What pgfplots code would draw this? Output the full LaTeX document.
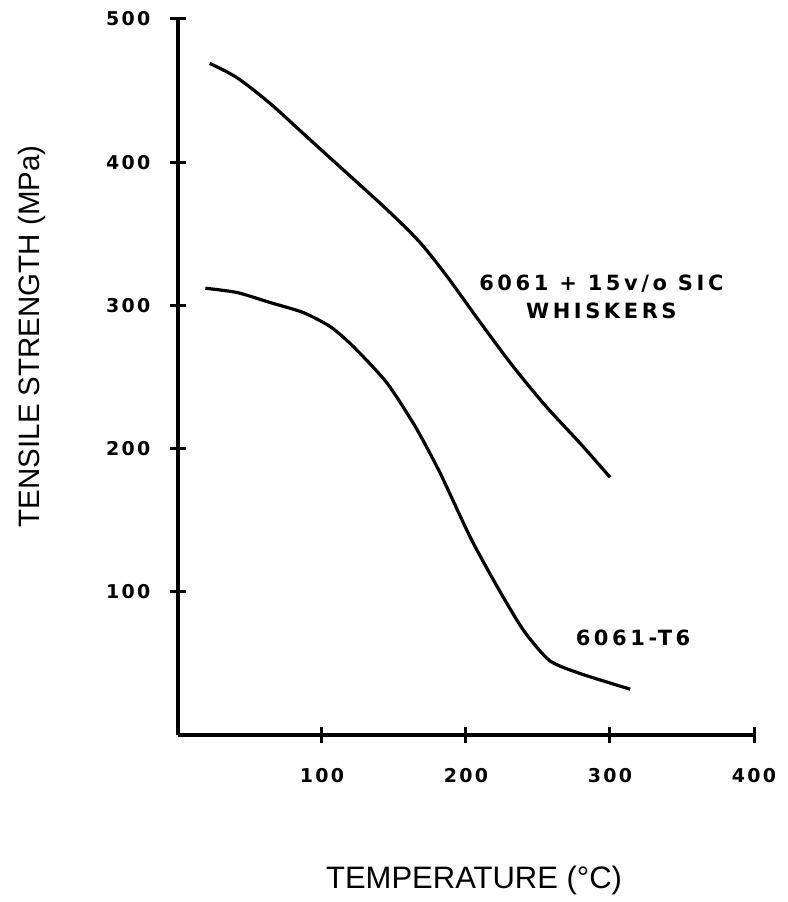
\documentclass[border=0pt]{standalone}
\usepackage{fontspec}
\usepackage{pgfplots}
\pgfplotsset{compat=1.18}
\setmainfont{Liberation Sans}
% lettering used for tick numbers and curve captions
\newfontfamily\lettering[LetterSpace=12]{DejaVu Sans}
\newfontfamily\capletter[LetterSpace=17]{DejaVu Sans}
\newcommand\tickfont{\lettering\bfseries\fontsize{19}{21}\selectfont}
\newcommand\capfont{\capletter\bfseries\fontsize{21}{28}\selectfont}

\begin{document}
\begin{tikzpicture}
\begin{axis}[
  at={(0,0)}, anchor=origin,
  scale only axis,
  width=576pt, height=716pt,
  xmin=0, xmax=400, ymin=0, ymax=500,
  axis lines=left,
  axis line style={-, line width=3.4pt},
  xtick={100,200,300,400},
  ytick={100,200,300,400,500},
  tick align=center,
  major tick length=16pt,
  tick style={line width=3pt, black},
  /pgf/number format/assume math mode=true,
  ticklabel style={font=\tickfont},
  xticklabel style={yshift=-22pt},
  yticklabel style={xshift=-16pt},
  xlabel={TEMPERATURE (°C)},
  ylabel={TENSILE STRENGTH (MPa)},
  xlabel style={font=\fontsize{31}{34}\selectfont,
    at={(axis description cs:0.514,-0.2025)}, anchor=center},
  ylabel style={font=\fontsize{29.5}{32}\selectfont,
    at={(axis description cs:-0.2535,0.557)}, anchor=center},
  clip=false,
]
% 6061 + 15 v/o SiC whiskers
\addplot[black, line width=3.2pt, smooth, tension=0.5] coordinates {
  (22,469) (41,459) (64,441) (87,420) (110,399) (145,367) (168,344)
  (187,320) (210,288) (233,257) (256,229) (279,204) (300,180)
};
% 6061-T6
\addplot[black, line width=3.2pt, smooth, tension=0.4] coordinates {
  (19,312) (41,309) (64,302) (87,295) (106,285) (122,271) (145,246)
  (165,215) (182,183) (203,138) (222,103) (240,73) (258,52) (279,43) (314,32)
};
\node[font=\capfont, align=center] at (axis cs:294,306) {6061 + 15v/o SIC\\WHISKERS};
\node[font=\capfont] at (axis cs:316,68) {6061-T6};
\end{axis}
\path[use as bounding box] (-178pt,-167pt) rectangle (609pt,735pt);
\end{tikzpicture}
\end{document}
